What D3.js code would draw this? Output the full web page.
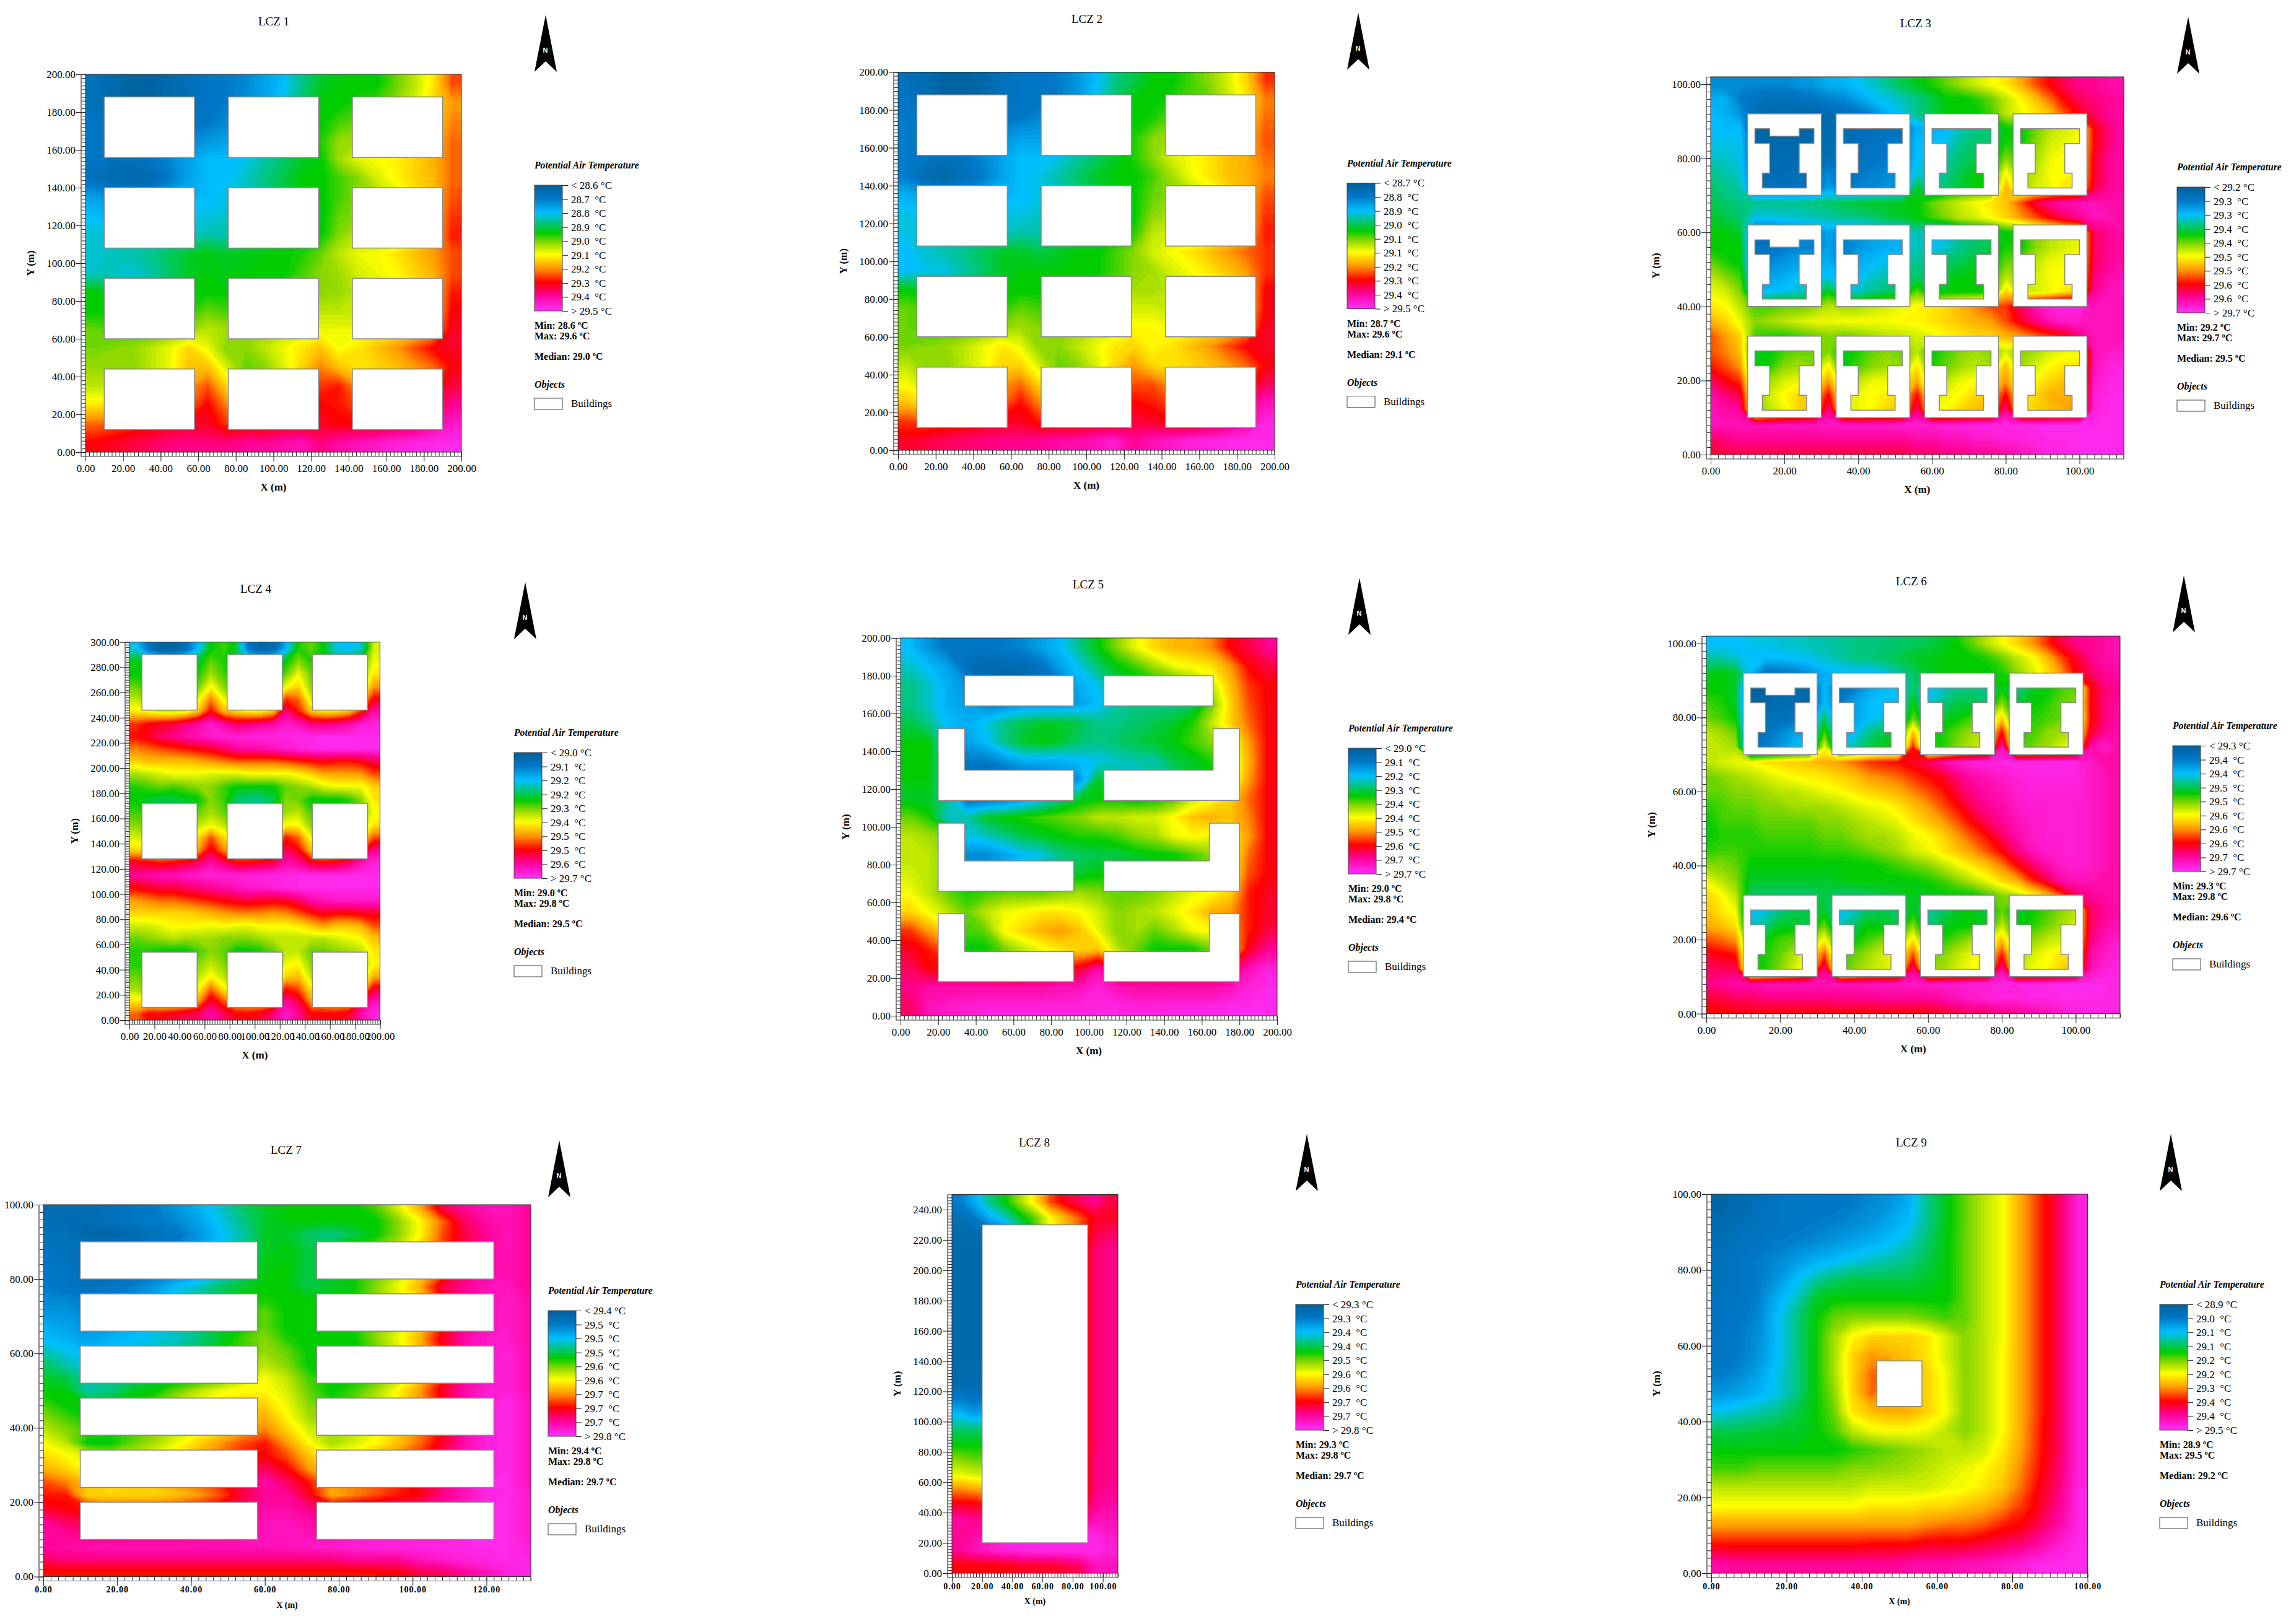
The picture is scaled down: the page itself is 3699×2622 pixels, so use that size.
<!DOCTYPE html>
<html>
<head>
<meta charset="utf-8">
<script src="https://cdn.jsdelivr.net/npm/d3@7"></script>
<style>
body{margin:0;background:#fff;}
text{font-family:"Liberation Serif",serif;fill:#000;white-space:pre;}
</style>
</head>
<body>
<script>
// field values are position along the colour bar, 0 = top of bar, 100 = bottom, rows listed north to south
var lcz1Grid = [
[8,5,2,2,5,8,10,12,14,18,22,30,36,38,38,38,44,50,58,72],
[8,5,3,3,5,7,10,12,15,18,24,32,38,38,40,42,46,52,60,66],
[10,9,8,8,9,10,11,14,16,18,24,30,38,42,44,46,50,54,60,68],
[10,9,9,10,12,14,16,18,20,22,26,32,40,47,48,50,52,56,62,70],
[10,8,8,10,14,18,22,22,24,28,32,36,38,48,53,55,57,60,64,70],
[8,6,4,6,12,18,22,22,26,30,34,38,38,42,46,52,56,60,63,70],
[18,14,12,14,18,20,22,24,26,30,34,38,38,42,46,48,52,58,62,72],
[22,20,18,20,22,24,24,26,28,30,34,38,37,44,46,48,50,56,62,74],
[26,24,22,22,24,26,28,28,30,32,35,38,38,46,50,50,50,56,62,76],
[25,27,28,30,33,36,38,36,37,38,38,40,44,50,54,55,58,62,66,72],
[26,26,25,28,32,36,38,37,38,38,38,42,46,48,52,54,56,60,64,72],
[38,36,32,33,36,38,38,38,38,40,42,44,46,47,50,52,54,56,60,76],
[38,38,36,36,38,40,44,42,42,44,46,48,50,50,50,52,54,56,60,78],
[44,42,42,42,44,46,50,48,46,48,50,52,54,54,54,56,58,60,64,80],
[45,46,47,50,54,60,54,46,46,50,54,58,62,55,58,62,66,72,78,80],
[47,46,46,50,54,62,62,52,44,46,52,60,68,62,58,60,62,66,70,78],
[50,50,52,54,58,66,72,60,54,56,60,66,74,76,66,64,66,70,74,82],
[58,58,60,62,66,70,78,68,62,62,66,72,78,76,72,72,74,78,82,88],
[70,72,74,76,78,80,80,74,76,76,78,78,80,78,78,78,80,82,88,94],
[78,80,82,84,86,87,86,86,88,88,90,92,86,90,92,94,96,97,98,98]];
var lcz2Grid = [
[8,6,2,2,4,8,10,10,12,16,22,30,34,38,38,42,46,52,60,74],
[10,6,3,3,5,8,10,10,12,16,24,32,38,38,40,42,44,50,58,68],
[12,10,9,9,10,11,12,14,16,18,24,30,38,40,44,46,50,54,60,70],
[12,10,10,10,12,16,18,18,20,22,26,32,40,46,48,50,52,56,62,72],
[12,10,8,10,14,18,22,22,24,28,32,36,40,46,52,55,58,62,64,70],
[12,6,4,8,12,18,22,24,28,32,36,38,38,42,48,54,58,62,64,68],
[20,16,12,14,18,20,22,24,26,30,34,36,38,44,46,48,52,58,62,72],
[24,22,18,20,22,24,24,26,28,30,34,36,38,46,48,50,50,56,62,74],
[24,24,22,22,24,26,28,28,30,32,34,36,40,50,52,50,50,56,62,76],
[22,26,28,30,33,36,36,34,36,38,38,42,46,52,55,58,62,66,70,74],
[22,24,24,28,32,36,38,38,38,38,38,42,46,48,52,55,58,62,66,74],
[38,36,32,33,36,38,38,38,38,40,42,44,48,48,50,52,54,56,60,78],
[44,42,36,38,38,40,44,42,42,44,46,50,52,52,50,52,54,56,60,78],
[44,42,42,42,44,46,48,46,46,48,50,52,56,56,54,56,58,60,66,80],
[45,46,47,50,54,58,54,46,46,50,54,58,60,56,58,62,66,72,78,80],
[50,46,46,50,54,60,60,52,44,46,52,60,66,60,58,60,62,66,70,78],
[55,50,52,54,58,66,70,60,54,56,60,66,72,72,66,64,66,70,74,84],
[62,58,60,62,66,70,77,68,62,62,66,72,78,76,72,72,74,78,84,92],
[74,72,74,76,78,80,80,76,76,76,78,78,82,80,78,78,80,84,90,97],
[80,82,84,85,86,87,87,88,90,90,92,95,88,92,94,96,97,98,98,98]];
var lcz3Grid = [
[14,14,14,14,14,14,16,17,20,21,23,26,30,34,37,40,44,48,52,55,58,64,72,78,84,87,88,90,90],
[20,20,12,10,8,8,9,10,13,14,18,22,24,27,30,34,38,38,40,44,50,56,62,70,78,84,86,88,90],
[22,20,16,6,4,4,4,4,6,8,10,14,20,24,30,34,38,38,38,42,50,54,58,62,72,78,84,88,90],
[22,22,22,2,2,3,3,3,5,6,7,8,9,10,20,20,22,28,30,31,38,38,44,50,52,54,78,86,90],
[24,24,24,4,4,5,5,4,6,6,8,10,11,12,22,22,24,30,32,32,40,38,46,52,54,56,78,86,90],
[26,26,24,5,5,6,6,6,8,6,9,10,12,12,23,24,28,32,34,34,46,42,48,54,56,56,80,88,90],
[30,28,26,6,6,7,8,9,14,10,11,13,14,14,26,24,30,34,38,38,56,46,50,55,56,58,80,88,90],
[32,30,28,8,8,8,9,9,18,11,13,14,16,16,36,26,32,36,38,38,64,48,52,54,58,60,82,88,90],
[34,32,30,30,30,30,30,31,32,34,35,36,36,37,38,44,48,52,55,58,62,72,82,88,90,92,92,90,90],
[36,34,32,24,24,25,26,27,28,30,30,32,34,36,38,42,46,50,52,56,60,66,72,78,84,88,92,92,90],
[38,38,36,8,10,12,14,14,18,14,16,18,20,20,28,22,24,30,32,34,38,38,46,50,52,54,84,88,90],
[38,38,38,8,10,12,14,12,18,12,16,18,20,20,28,22,26,30,32,34,40,38,46,50,52,54,84,88,90],
[44,40,38,12,14,16,18,18,20,14,20,22,24,24,30,28,32,34,36,36,44,44,50,54,55,56,84,88,90],
[50,46,42,16,18,20,22,22,24,20,22,26,28,30,32,32,36,38,38,38,50,48,52,55,56,58,86,90,92],
[54,52,46,20,22,24,26,28,38,24,26,30,32,34,44,34,38,38,38,38,60,50,52,54,58,62,88,92,94],
[58,56,50,42,42,44,44,46,50,48,48,50,52,54,56,58,60,64,68,72,74,84,92,96,97,97,92,92,92],
[64,60,54,46,48,50,52,54,54,55,55,55,55,56,56,58,60,62,64,66,72,80,86,92,94,94,92,92,92],
[72,66,60,42,40,40,42,44,46,44,46,48,50,50,52,54,56,58,60,60,64,66,70,74,78,86,92,92,92],
[72,68,62,36,38,42,44,44,46,36,40,44,46,44,50,38,42,46,48,46,52,46,48,52,54,54,92,94,95],
[76,72,66,38,40,46,48,46,56,38,42,46,48,46,58,40,44,48,50,48,62,48,52,56,58,58,92,96,97],
[84,78,74,44,48,52,54,54,66,46,50,54,54,56,64,46,50,54,56,58,66,54,56,60,62,62,94,97,97],
[90,86,82,46,52,56,60,62,78,50,54,56,58,60,78,52,54,56,60,62,78,56,60,64,64,66,96,98,98],
[92,90,88,44,50,54,60,64,87,52,54,56,60,62,86,54,56,60,62,64,88,58,60,62,64,68,96,98,98],
[92,92,92,92,92,93,93,93,94,94,94,94,94,95,95,95,96,96,97,97,97,98,98,98,98,98,98,98,98],
[84,86,88,88,88,88,88,88,88,88,88,88,88,88,90,90,92,92,94,94,96,96,97,98,98,98,98,98,98],
[80,82,82,82,82,82,82,82,82,82,82,82,82,82,84,84,86,86,88,88,90,92,94,96,97,98,98,98,98]];
var lcz4Grid = [
[24,10,2,2,8,22,38,42,36,10,4,6,20,40,44,38,24,22,26,52],
[38,34,30,28,30,36,44,40,34,30,28,30,38,46,40,38,34,34,40,54],
[38,36,34,34,36,40,48,42,36,34,34,36,44,54,44,38,36,38,44,58],
[44,40,38,38,40,44,56,46,40,38,38,42,54,60,46,42,40,42,50,66],
[50,46,44,44,46,54,68,54,48,46,46,52,74,70,52,48,46,50,60,78],
[58,55,52,52,54,62,78,64,60,56,56,62,86,76,62,58,58,62,74,90],
[74,78,80,82,86,90,94,90,84,86,88,90,94,92,86,86,88,90,95,96],
[77,80,85,87,90,92,94,95,96,96,97,97,97,98,98,98,98,98,98,98],
[68,70,72,74,76,78,80,84,88,90,90,92,94,96,97,98,98,98,98,98],
[60,62,62,62,62,64,66,68,70,70,70,70,72,74,76,78,76,76,78,82],
[48,50,52,54,54,54,52,52,52,54,54,54,54,56,60,64,65,65,66,72],
[40,42,44,42,44,46,46,42,38,38,38,38,44,46,48,52,54,54,54,60],
[38,36,34,34,36,38,46,42,32,30,30,34,46,44,38,38,38,40,46,58],
[42,40,36,36,36,44,48,44,36,32,34,40,48,50,42,38,38,40,44,55],
[46,44,40,40,42,50,54,50,42,40,42,48,56,56,46,42,42,44,48,58],
[52,50,46,46,50,60,72,60,50,48,48,56,76,70,54,50,48,52,58,72],
[60,58,55,55,58,66,80,68,62,60,62,66,84,78,62,60,60,64,72,88],
[80,78,76,78,80,84,90,84,78,78,80,82,90,88,80,78,80,84,92,96],
[88,90,92,92,94,95,96,96,96,96,97,97,97,98,98,98,98,98,98,98],
[78,80,82,82,84,86,88,90,92,94,94,96,97,98,98,98,98,98,98,98],
[66,68,70,70,72,74,76,78,80,82,80,80,80,84,90,92,94,94,94,94],
[60,60,60,60,60,62,64,66,68,68,68,66,68,72,76,80,78,78,80,80],
[52,52,54,56,56,56,54,56,54,54,56,56,56,58,62,66,62,62,64,72],
[44,46,48,50,48,48,48,46,46,46,48,50,50,50,50,50,52,54,56,62],
[40,40,38,38,38,42,46,44,38,38,40,44,50,50,44,44,46,48,50,58],
[40,38,36,36,36,46,50,46,36,36,38,44,54,56,46,40,40,42,48,56],
[44,42,38,38,40,50,56,50,42,40,42,50,60,62,50,44,44,46,50,64],
[48,46,44,44,46,56,70,58,50,48,50,58,76,72,58,50,50,52,60,80],
[58,56,54,54,58,66,82,72,62,60,60,68,90,82,66,62,60,62,80,92],
[70,78,78,80,82,84,90,84,78,78,80,86,94,88,78,78,78,80,90,97]];
var lcz5Grid = [
[22,16,10,10,10,12,14,18,22,30,38,46,54,60,63,64,68,78,82,88],
[26,22,18,8,5,5,6,10,18,24,32,38,42,48,54,56,58,66,78,82],
[30,26,20,16,6,4,4,8,12,20,24,32,36,38,38,44,50,62,74,78],
[30,26,20,18,14,14,16,16,16,18,22,28,30,30,30,32,44,60,72,78],
[34,30,22,20,24,30,34,36,36,34,30,30,32,34,36,40,50,60,70,78],
[38,38,24,18,22,30,36,38,36,32,30,32,34,36,38,42,46,52,66,78],
[38,38,26,12,12,16,20,20,20,22,24,26,28,28,34,36,40,50,64,78],
[38,38,26,4,4,6,8,10,14,16,36,30,22,28,30,36,38,50,66,78],
[36,36,30,10,10,12,16,22,30,36,38,38,36,38,42,50,55,60,70,78],
[44,40,26,28,36,38,40,42,44,46,50,50,52,52,56,62,64,62,68,78],
[50,48,44,24,26,30,34,36,38,40,40,42,46,48,54,56,54,56,66,78],
[50,50,46,14,14,18,22,24,30,32,34,34,36,38,38,42,46,54,70,78],
[52,50,46,20,20,22,26,30,34,36,38,38,36,38,40,42,46,55,72,78],
[55,50,44,40,42,44,44,44,46,48,46,44,44,46,50,54,56,60,76,80],
[60,55,50,44,50,54,56,58,58,56,52,46,48,50,54,58,64,66,76,80],
[74,66,58,42,44,56,60,64,66,62,54,46,48,44,48,54,56,64,76,82],
[80,76,70,38,38,44,50,54,58,60,62,50,44,38,38,38,44,58,80,88],
[84,78,78,76,74,72,72,76,78,80,90,76,80,78,78,80,80,80,92,96],
[87,90,90,90,90,90,90,90,92,92,96,92,90,90,90,90,90,92,96,98],
[84,92,94,95,96,96,96,96,96,96,97,97,96,96,97,97,97,98,98,98]];
var lcz6Grid = [
[22,22,22,24,24,25,26,27,28,29,30,30,31,32,33,34,36,39,44,50,55,60,66,74,82,87,88,90,92],
[28,28,26,22,22,22,23,24,26,28,30,31,32,34,36,37,38,38,38,40,44,50,54,62,72,80,87,90,92],
[36,38,36,22,10,10,12,16,20,22,22,22,24,28,32,36,38,38,38,38,40,46,52,58,66,78,84,88,90],
[38,38,36,2,2,5,6,3,22,8,12,18,22,24,32,22,26,30,30,30,38,30,36,38,42,44,77,86,88],
[42,40,36,4,4,6,6,4,22,12,18,22,22,22,38,24,30,34,34,32,46,34,38,40,44,46,78,86,90],
[44,42,38,8,8,8,10,12,32,14,18,22,25,25,44,30,36,38,42,46,60,36,40,42,44,44,77,86,90],
[50,48,44,8,10,14,18,20,42,20,22,30,34,36,62,38,40,44,48,50,78,40,42,46,48,50,80,88,90],
[50,50,48,8,12,16,22,24,54,22,28,34,38,38,76,38,40,46,50,54,92,42,44,48,52,60,90,94,90],
[50,52,54,55,58,60,61,62,64,66,70,74,76,77,80,84,90,94,96,97,97,98,98,98,98,97,94,90,90],
[44,46,48,50,52,54,56,57,58,60,62,66,68,70,74,77,80,86,90,92,94,96,97,97,97,97,94,92,90],
[44,44,46,46,48,50,50,52,54,55,58,60,62,64,68,72,76,82,87,90,92,95,96,96,96,96,94,92,90],
[40,42,44,44,46,46,48,48,48,50,52,54,55,58,62,66,72,77,84,88,90,94,95,95,95,95,94,92,90],
[38,42,42,42,44,44,44,44,46,46,48,50,52,54,58,62,66,72,78,84,88,92,94,95,95,95,94,92,90],
[38,40,40,40,42,42,42,42,44,44,46,48,48,50,54,56,60,66,72,77,84,90,94,95,95,95,94,92,90],
[40,42,42,40,40,40,40,40,41,41,42,44,46,48,52,54,58,62,66,72,78,86,92,94,95,95,94,92,90],
[46,46,44,38,38,38,38,38,38,38,38,38,40,42,44,46,50,54,58,62,68,77,84,90,94,95,94,92,90],
[54,50,46,36,36,36,36,36,36,37,38,38,38,38,38,40,42,46,50,54,60,64,74,82,90,92,92,90,90],
[60,56,50,32,32,32,32,32,34,32,32,33,34,36,37,36,38,38,38,42,46,50,56,62,72,84,88,90,90],
[62,58,54,22,24,30,33,34,36,22,26,32,34,32,37,28,32,36,38,34,44,36,38,42,46,50,84,88,90],
[64,62,58,26,30,36,36,34,44,26,32,38,36,34,46,30,36,38,38,36,50,38,40,44,48,52,84,90,92],
[72,70,66,36,38,42,44,46,56,36,38,42,46,46,58,38,40,44,48,50,62,44,46,50,52,54,86,92,95],
[80,78,76,38,40,44,50,56,72,42,44,48,52,55,72,44,46,50,54,56,76,48,52,55,58,60,90,94,96],
[84,84,84,38,40,46,52,60,87,42,46,50,52,56,87,46,48,52,56,58,90,50,54,56,60,66,92,96,97],
[87,88,90,90,92,92,92,92,92,92,92,93,93,93,94,94,95,95,96,96,97,97,97,98,98,98,98,98,97],
[80,82,84,84,86,86,86,86,86,87,87,87,88,88,88,88,90,92,94,95,96,96,97,97,98,98,98,98,97],
[77,77,78,78,78,78,78,78,78,78,78,78,78,78,78,78,80,82,84,84,86,88,90,92,94,96,97,97,97]];
var lcz7Grid = [
[6,6,6,8,10,12,16,20,26,32,36,38,38,38,38,42,52,64,82,88,92,92,88],
[7,7,6,8,10,12,14,18,24,30,36,38,38,38,38,38,46,56,70,84,90,92,88],
[8,8,3,3,5,8,10,16,22,28,36,36,32,30,34,38,46,56,72,82,88,92,88],
[10,8,8,8,10,12,14,18,24,30,36,38,34,36,40,44,50,60,72,84,90,92,88],
[10,9,8,8,10,12,14,18,24,30,37,38,34,36,40,44,50,60,72,84,90,92,88],
[12,10,8,8,10,12,14,18,24,30,38,38,34,36,40,44,50,60,72,84,90,92,88],
[12,10,8,10,12,16,22,26,32,36,38,38,34,36,38,46,54,64,82,88,92,92,88],
[14,14,12,14,16,20,26,30,34,38,40,38,38,38,40,46,52,60,76,86,92,94,90],
[16,16,14,16,18,22,26,30,34,38,44,38,38,38,40,46,52,60,76,86,92,94,90],
[20,18,16,18,20,24,28,32,36,38,44,38,38,38,40,46,52,60,76,86,92,94,90],
[22,20,18,20,22,24,26,30,36,42,46,40,38,38,38,46,54,64,80,90,94,94,90],
[28,24,22,24,26,28,30,34,38,42,47,44,38,38,38,44,52,62,76,88,94,96,90],
[32,28,24,26,28,30,32,36,40,46,50,46,38,38,38,44,52,60,76,88,94,96,90],
[36,34,28,30,32,34,36,38,42,50,55,50,42,38,38,42,50,60,76,88,94,96,90],
[38,38,28,30,36,38,44,50,54,56,56,52,44,38,42,48,56,66,80,90,95,96,90],
[42,38,38,38,40,44,50,55,58,60,60,54,46,40,44,50,58,66,78,90,96,98,92],
[46,42,38,38,40,44,50,56,60,62,64,56,48,44,46,52,58,66,78,90,96,98,92],
[50,46,42,40,42,46,50,54,58,64,68,60,52,48,50,54,60,68,78,90,96,98,92],
[55,50,38,38,44,48,54,60,66,72,76,66,56,48,52,56,62,70,80,90,96,98,92],
[60,56,52,48,50,54,58,64,70,76,78,72,62,56,58,62,68,74,84,92,96,98,92],
[64,60,55,52,54,58,62,68,72,78,84,78,66,60,62,66,70,76,84,92,96,98,92],
[72,68,62,58,60,62,66,70,76,82,90,84,76,66,68,70,74,80,86,94,98,98,92],
[76,76,60,60,60,60,62,66,72,82,88,88,80,64,68,72,76,78,86,92,97,98,94],
[80,78,76,70,72,72,74,76,80,84,90,90,86,82,84,84,86,88,90,94,98,98,94],
[88,84,82,78,80,80,82,84,86,88,92,92,90,88,90,90,92,92,94,96,98,98,94],
[90,88,86,84,86,86,86,88,88,90,92,92,92,90,92,92,92,94,94,96,98,98,94],
[88,90,91,92,92,92,92,92,92,92,92,92,94,95,96,97,97,97,98,98,98,98,96],
[84,86,86,86,86,86,86,86,86,86,86,86,86,86,88,88,88,92,94,96,97,98,97],
[76,76,76,76,76,76,76,76,76,76,76,76,76,76,76,77,78,82,84,88,92,96,98]];
var lcz8Grid = [
[12,20,30,38,48,58,72,80,84,88,82],
[8,12,20,26,36,44,56,64,72,80,80],
[5,6,8,14,26,40,54,62,70,82,84],
[4,4,4,10,25,40,50,58,72,85,87],
[4,4,4,10,25,40,50,58,72,85,87],
[4,4,4,10,25,40,50,58,72,85,87],
[4,4,4,10,25,40,50,58,72,85,87],
[4,4,4,10,25,40,50,58,72,85,87],
[4,4,4,10,25,40,50,58,72,85,87],
[4,4,4,10,25,40,50,58,72,85,87],
[4,4,4,10,25,40,50,58,72,85,87],
[5,5,6,10,25,40,50,58,72,85,87],
[6,6,8,12,25,40,50,58,72,85,87],
[12,10,12,16,25,40,50,58,72,85,87],
[22,18,20,22,28,40,50,58,72,85,87],
[32,32,32,32,34,42,50,58,72,85,87],
[38,38,38,38,40,44,50,58,72,85,87],
[46,44,44,44,46,48,52,58,72,86,87],
[54,52,52,52,52,54,56,60,72,86,87],
[68,66,64,62,60,60,60,62,72,86,88],
[80,80,76,72,70,70,70,70,76,88,90],
[90,88,88,86,84,84,84,84,84,92,92],
[88,90,94,96,96,96,96,96,97,97,94],
[88,92,94,96,97,98,98,98,98,98,96],
[78,78,78,78,80,80,80,82,84,92,92]];
var lcz9Grid = [
[3,6,8,10,10,11,11,12,14,16,20,30,37,44,50,55,65,75,84,96],
[5,7,9,10,11,12,13,14,16,19,22,30,37,44,50,55,65,75,84,96],
[7,9,10,12,13,14,16,18,20,22,26,32,38,44,50,55,65,75,84,96],
[8,10,12,14,17,20,22,24,26,28,30,34,38,44,50,55,65,75,84,96],
[8,10,12,16,22,28,32,34,34,34,34,36,38,44,50,55,65,75,84,96],
[9,10,13,20,26,36,38,38,38,38,38,38,38,44,50,55,65,75,84,96],
[9,11,14,22,30,38,44,46,46,46,46,44,42,44,50,55,65,75,84,96],
[10,12,15,22,30,38,48,56,60,60,60,58,52,46,50,55,65,75,84,96],
[10,12,16,22,30,38,48,60,66,64,62,58,52,46,50,56,65,75,84,96],
[12,14,18,24,30,38,48,60,70,72,64,60,54,46,50,56,65,75,84,96],
[16,18,20,24,30,38,46,60,70,64,63,60,54,46,50,56,65,75,84,96],
[24,26,28,30,34,38,44,58,62,64,64,60,55,46,50,56,65,75,84,96],
[34,34,35,36,36,38,42,50,54,55,55,54,50,46,50,56,65,76,84,96],
[38,38,38,38,38,38,38,40,42,44,46,48,50,50,52,58,66,76,84,96],
[42,42,44,44,44,44,44,46,46,47,48,50,52,54,56,60,68,77,85,96],
[50,50,50,50,50,50,50,50,52,52,52,52,54,55,58,62,70,79,86,97],
[56,56,56,56,56,56,56,56,58,58,58,60,60,62,64,68,74,80,88,97],
[66,66,66,66,66,66,66,66,66,66,66,68,70,70,72,76,78,84,90,97],
[77,77,77,77,77,77,77,77,78,78,78,80,80,80,82,84,86,90,95,98],
[90,88,88,88,88,88,88,88,88,88,90,90,90,92,92,94,96,98,98,98]];

// legend tick labels
var lcz1Legend = ["< 28.6 °C","28.7  °C","28.8  °C","28.9  °C","29.0  °C","29.1  °C","29.2  °C","29.3  °C","29.4  °C","> 29.5 °C"];
var lcz2Legend = ["< 28.7 °C","28.8  °C","28.9  °C","29.0  °C","29.1  °C","29.1  °C","29.2  °C","29.3  °C","29.4  °C","> 29.5 °C"];
var lcz3Legend = ["< 29.2 °C","29.3  °C","29.3  °C","29.4  °C","29.4  °C","29.5  °C","29.5  °C","29.6  °C","29.6  °C","> 29.7 °C"];
var lcz4Legend = ["< 29.0 °C","29.1  °C","29.2  °C","29.2  °C","29.3  °C","29.4  °C","29.5  °C","29.5  °C","29.6  °C","> 29.7 °C"];
var lcz5Legend = ["< 29.0 °C","29.1  °C","29.2  °C","29.3  °C","29.4  °C","29.4  °C","29.5  °C","29.6  °C","29.7  °C","> 29.7 °C"];
var lcz6Legend = ["< 29.3 °C","29.4  °C","29.4  °C","29.5  °C","29.5  °C","29.6  °C","29.6  °C","29.6  °C","29.7  °C","> 29.7 °C"];
var lcz7Legend = ["< 29.4 °C","29.5  °C","29.5  °C","29.5  °C","29.6  °C","29.6  °C","29.7  °C","29.7  °C","29.7  °C","> 29.8 °C"];
var lcz8Legend = ["< 29.3 °C","29.3  °C","29.4  °C","29.4  °C","29.5  °C","29.6  °C","29.6  °C","29.7  °C","29.7  °C","> 29.8 °C"];
var lcz9Legend = ["< 28.9 °C","29.0  °C","29.1  °C","29.1  °C","29.2  °C","29.2  °C","29.3  °C","29.4  °C","29.4  °C","> 29.5 °C"];
var minLabels = ["28.6","28.7","29.2","29.0","29.0","29.3","29.4","29.3","28.9"];
var maxLabels = ["29.6","29.6","29.7","29.8","29.8","29.8","29.8","29.8","29.5"];
var medianLabels = ["29.0","29.1","29.5","29.5","29.4","29.6","29.7","29.7","29.2"];

// buildings in metres: [x0,y0,x1,y1]
var blockBuildings = [[10,12,58,44],[76,12,124,44],[142,12,190,44],[10,60,58,92],[76,60,124,92],[142,60,190,92],[10,108,58,140],[76,108,124,140],[142,108,190,140],[10,156,58,188],[76,156,124,188],[142,156,190,188]];
var lcz4Buildings = [[10,10,54,54],[78,10,122,54],[146,10,190,54],[10,128,54,172],[78,128,122,172],[146,128,190,172],[10,246,54,290],[78,246,122,290],[146,246,190,290]];
var lcz5Shapes = [
[[34,164],[92,164],[92,180],[34,180]],
[[108,164],[166,164],[166,180],[108,180]],
[[20,114],[92,114],[92,130],[34,130],[34,152],[20,152]],
[[108,114],[180,114],[180,152],[166,152],[166,130],[108,130]],
[[20,66],[92,66],[92,82],[34,82],[34,102],[20,102]],
[[108,66],[180,66],[180,102],[164,102],[164,82],[108,82]],
[[20,18],[92,18],[92,34],[34,34],[34,54],[20,54]],
[[108,18],[180,18],[180,54],[164,54],[164,34],[108,34]]];
var lcz7Buildings = [[10,80,58,90],[74,80,122,90],[10,66,58,76],[74,66,122,76],[10,52,58,62],[74,52,122,62],[10,38,58,48],[74,38,122,48],[10,24,58,34],[74,24,122,34],[10,10,58,20],[74,10,122,20]];
var lcz8Buildings = [[20,20,90,230]];
var lcz9Buildings = [[44,44,56,56]];
// courtyard blocks: [x0,y0,notched]; every block is 20 x 22 m
var lcz3Courts = [[10,70,1],[34,70,0],[58,70,0],[82,70,0],[10,40,1],[34,40,0],[58,40,0],[82,40,0],[10,10,0],[34,10,0],[58,10,0],[82,10,0]];
var lcz6Courts = [[10,70,1],[34,70,0],[58,70,0],[82,70,0],[10,10,0],[34,10,0],[58,10,0],[82,10,0]];
var courtPlain = [[2,18],[18,18],[18,14],[14,14],[14,6],[16,6],[16,2],[4,2],[4,6],[6,6],[6,14],[2,14]];
var courtNotch = [[2,18],[6,18],[6,16],[14,16],[14,18],[18,18],[18,14],[14,14],[14,6],[16,6],[16,2],[4,2],[4,6],[6,6],[6,14],[2,14]];

var barStops = [0,11,22,38,46,55,66,77,87,100];
var barColors = ["#00609a","#0078c8","#00bfff","#00cc00","#8fd800","#ffff00","#ff9800","#ff0000","#ff0090","#ff30ff"];
var color = d3.scaleLinear().domain(barStops).range(barColors);

function rectShape(b){ return [[b[0],b[1]],[b[2],b[1]],[b[2],b[3]],[b[0],b[3]]]; }
function courtShapes(list){
  var out = [];
  list.forEach(function(c){
    out.push([[c[0],c[1]],[c[0]+20,c[1]],[c[0]+20,c[1]+22],[c[0],c[1]+22]]);
    out.push((c[2]?courtNotch:courtPlain).map(function(p){return [c[0]+p[0],c[1]+p[1]];}));
  });
  return out;
}
// repeat the border cells once so the contours do not round off at the plot edge
function padGrid(grid){
  var rows = grid.map(function(r){ return [r[0]].concat(r,[r[r.length-1]]); });
  return [rows[0]].concat(rows,[rows[rows.length-1]]);
}

// px: plot box, off: shift of the legend block from panel 1, gx/gy: left and top edge of the grid in metres, dx/dy: cell size
var panels = [
{t:"LCZ 1",grid:lcz1Grid,leg:lcz1Legend,shapes:blockBuildings.map(rectShape),xMax:200,yMax:200,xTop:200,yTop:200,gx:0,gy:200,dx:10,dy:10,px:[138,745,120,730],off:[0,0],title:[442,35]},
{t:"LCZ 2",grid:lcz2Grid,leg:lcz2Legend,shapes:blockBuildings.map(rectShape),xMax:200,yMax:200,xTop:200,yTop:200,gx:0,gy:200,dx:10,dy:10,px:[1450,2058,116.5,727],off:[1312,-3.5],title:[1755,31]},
{t:"LCZ 3",grid:lcz3Grid,leg:lcz3Legend,shapes:courtShapes(lcz3Courts),xMax:112,yMax:102,xTop:100,yTop:100,gx:-2,gy:102,dx:4,dy:4,px:[2762,3429,124,734],off:[2652,3],title:[3093,38]},
{t:"LCZ 4",grid:lcz4Grid,leg:lcz4Legend,shapes:lcz4Buildings.map(rectShape),xMax:200,yMax:300,xTop:200,yTop:300,gx:0,gy:300,dx:10,dy:10,px:[209,613.6,1036.7,1647],off:[-33,916],title:[413,951]},
{t:"LCZ 5",grid:lcz5Grid,leg:lcz5Legend,shapes:lcz5Shapes,xMax:200,yMax:200,xTop:200,yTop:200,gx:0,gy:200,dx:10,dy:10,px:[1454,2062,1030,1640],off:[1314,909],title:[1757,944]},
{t:"LCZ 6",grid:lcz6Grid,leg:lcz6Legend,shapes:courtShapes(lcz6Courts),xMax:112,yMax:102,xTop:100,yTop:100,gx:-2,gy:102,dx:4,dy:4,px:[2755,3423,1027,1636.6],off:[2645,905],title:[3086,939]},
{t:"LCZ 7",grid:lcz7Grid,leg:lcz7Legend,shapes:lcz7Buildings.map(rectShape),xMax:132,yMax:100,xTop:120,yTop:100,gx:-3,gy:100.75,dx:6,dy:3.5,px:[70,857,1945,2545.5],off:[22,1817],title:[462,1857],squat:true,noY:true},
{t:"LCZ 8",grid:lcz8Grid,leg:lcz8Legend,shapes:lcz8Buildings.map(rectShape),xMax:110,yMax:250,xTop:100,yTop:240,gx:0,gy:250,dx:10,dy:10,px:[1537,1805,1928.5,2540],off:[1229,1807],title:[1670,1845],squat:true},
{t:"LCZ 9",grid:lcz9Grid,leg:lcz9Legend,shapes:lcz9Buildings.map(rectShape),xMax:100,yMax:100,xTop:100,yTop:100,gx:0,gy:100,dx:5,dy:5,px:[2763,3370.5,1928,2540],off:[2624,1807],title:[3086,1845],squat:true}
];

var svg = d3.select("body").append("svg").attr("width",3699).attr("height",2622).style("display","block");
var defs = svg.append("defs");
var grad = defs.append("linearGradient").attr("id","bar").attr("x1",0).attr("x2",0).attr("y1",0).attr("y2",1);
barStops.forEach(function(s,i){ grad.append("stop").attr("offset",s+"%").attr("stop-color",barColors[i]); });

var thresholds = d3.range(1,100,1);
var outline = d3.line();

panels.forEach(function(p,idx){
  var g = svg.append("g");
  var x = d3.scaleLinear().domain([0,p.xMax]).range([p.px[0],p.px[1]]);
  var y = d3.scaleLinear().domain([0,p.yMax]).range([p.px[3],p.px[2]]);
  var padded = padGrid(p.grid);
  var n = padded[0].length, m = padded.length;

  defs.append("clipPath").attr("id","clip"+idx).append("rect")
    .attr("x",p.px[0]).attr("y",p.px[2]).attr("width",p.px[1]-p.px[0]).attr("height",p.px[3]-p.px[2]);

  // field
  var field = g.append("g").attr("clip-path","url(#clip"+idx+")");
  field.append("rect").attr("x",p.px[0]).attr("y",p.px[2]).attr("width",p.px[1]-p.px[0]).attr("height",p.px[3]-p.px[2]).attr("fill",color(0));
  var contours = d3.contours().size([n,m]).thresholds(thresholds)(d3.merge(padded));
  var geo = d3.geoPath(d3.geoTransform({point:function(u,v){
    this.stream.point(x(p.gx+(u-1)*p.dx),y(p.gy-(v-1)*p.dy));
  }}));
  field.selectAll("path").data(contours).enter().append("path")
    .attr("d",geo)
    .attr("fill",function(d){return color(d.value);});

  // buildings
  var toPx = function(s){ return outline(s.map(function(q){return [x(q[0]),y(q[1])];}))+"Z"; };
  g.append("path")
    .attr("d",p.shapes.map(toPx).join(""))
    .attr("fill","#fff").attr("fill-rule","evenodd")
    .attr("stroke","#8a8a8a").attr("stroke-width",1.5);
  g.append("rect").attr("x",p.px[0]).attr("y",p.px[2]).attr("width",p.px[1]-p.px[0]).attr("height",p.px[3]-p.px[2])
    .attr("fill","none").attr("stroke","#333").attr("stroke-width",1);

  // axes
  var xTicks = d3.range(0,p.xTop+1,20), yTicks = d3.range(0,p.yTop+1,20);
  var fmt = d3.format(".2f");
  var axB = g.append("g").attr("transform","translate(0,"+p.px[3]+")")
    .call(d3.axisBottom(x).tickValues(xTicks).tickFormat(fmt).tickSize(15).tickPadding(p.squat?1:5));
  var axL = g.append("g").attr("transform","translate("+p.px[0]+",0)")
    .call(d3.axisLeft(y).tickValues(yTicks).tickFormat(fmt).tickSize(15).tickPadding(1));
  g.append("g").attr("transform","translate(0,"+p.px[3]+")")
    .call(d3.axisBottom(x).tickValues(d3.range(0,p.xMax+1,2)).tickFormat("").tickSize(6));
  g.append("g").attr("transform","translate("+p.px[0]+",0)")
    .call(d3.axisLeft(y).tickValues(d3.range(0,p.yMax+1,2)).tickFormat("").tickSize(6));
  g.selectAll(".domain").attr("stroke","none");
  g.selectAll(".tick line").attr("stroke","#222");
  [axB,axL].forEach(function(a){ a.selectAll("text").attr("font-size",17).attr("font-family","Liberation Serif").attr("fill","#000"); });
  if(p.squat){ axB.selectAll("text").attr("font-size",14).attr("font-weight","bold").attr("letter-spacing",1); }
  g.append("path").attr("fill","none").attr("stroke","#333").attr("stroke-width",1.2)
    .attr("d",outline([[p.px[0]-7,p.px[2]],[p.px[0]-7,p.px[3]+7],[p.px[1],p.px[3]+7],[p.px[1],p.px[3]]]));

  var midX = (p.px[0]+p.px[1])/2, midY = (p.px[2]+p.px[3])/2;
  g.append("text").attr("x",midX).attr("y",p.px[3]+(p.squat?50:62))
    .attr("text-anchor","middle").attr("font-weight","bold").attr("font-size",p.squat?14:17).text("X (m)");
  if(!p.noY){
    g.append("text").attr("transform","translate("+(p.px[0]-83)+","+midY+") rotate(-90)")
      .attr("text-anchor","middle").attr("font-weight","bold").attr("font-size",17).text("Y (m)");
  }
  g.append("text").attr("x",p.title[0]).attr("y",p.title[1]+6).attr("text-anchor","middle").attr("font-size",19).text(p.t);

  // north arrow and legend block share one offset
  var b = g.append("g").attr("transform","translate("+p.off[0]+","+p.off[1]+")");
  b.append("path").attr("fill","#000").attr("d",outline([[881,24],[899,116],[881,99],[863,116]])+"Z");
  b.append("text").attr("x",880.5).attr("y",85).attr("text-anchor","middle").attr("font-size",11).attr("font-weight","bold")
    .style("font-family","Liberation Sans").style("fill","#fff").text("N");

  b.append("text").attr("x",863).attr("y",272).attr("font-size",15.7).attr("font-weight","bold").attr("font-style","italic").text("Potential Air Temperature");
  b.append("rect").attr("x",863).attr("y",299).attr("width",45).attr("height",203).attr("fill","url(#bar)").attr("stroke","#444").attr("stroke-width",1);
  var legY = d3.scalePoint().domain(d3.range(10)).range([299,502]);
  var axLeg = b.append("g").attr("transform","translate(908,0)")
    .call(d3.axisRight(legY).tickFormat(function(i){return p.leg[i];}).tickSize(9).tickPadding(5));
  axLeg.select(".domain").attr("stroke","none");
  axLeg.selectAll("line").attr("stroke","#222");
  axLeg.selectAll("text").attr("font-size",17).attr("font-family","Liberation Serif").attr("fill","#000");
  b.append("text").attr("x",863).attr("y",531).attr("font-size",16).attr("font-weight","bold").text("Min: "+minLabels[idx]+" ºC");
  b.append("text").attr("x",863).attr("y",548).attr("font-size",16).attr("font-weight","bold").text("Max: "+maxLabels[idx]+" ºC");
  b.append("text").attr("x",863).attr("y",581).attr("font-size",16).attr("font-weight","bold").text("Median: "+medianLabels[idx]+" ºC");
  b.append("text").attr("x",863).attr("y",626).attr("font-size",16).attr("font-weight","bold").attr("font-style","italic").text("Objects");
  b.append("rect").attr("x",863).attr("y",643).attr("width",45).attr("height",18).attr("fill","#fff").attr("stroke","#444").attr("stroke-width",1);
  b.append("text").attr("x",922).attr("y",657).attr("font-size",17).text("Buildings");
});
</script>
</body>
</html>
